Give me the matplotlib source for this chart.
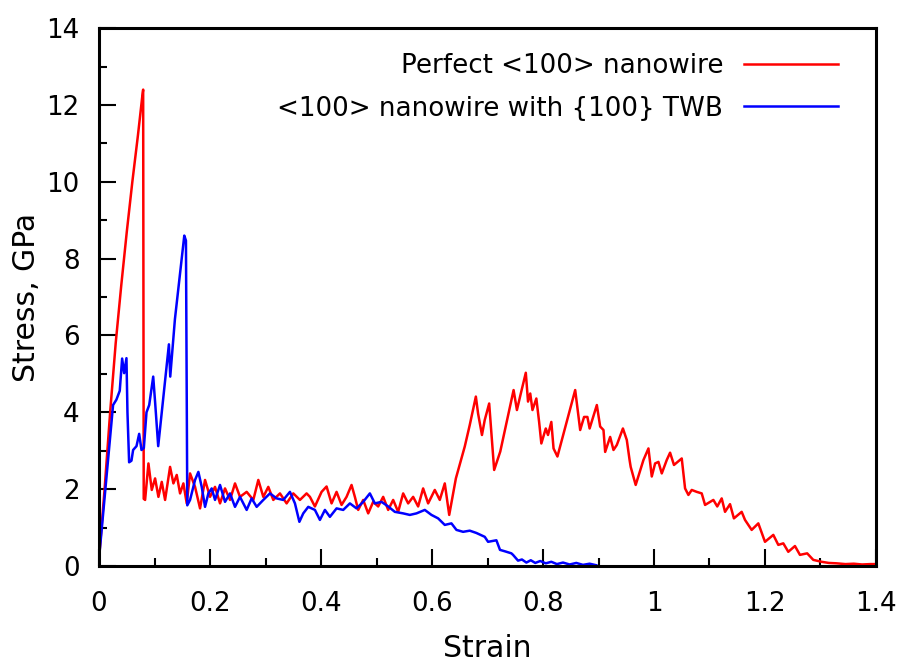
import matplotlib
matplotlib.use('Agg')
import matplotlib.pyplot as plt
from matplotlib.ticker import MultipleLocator

# Perfect <100> nanowire
red_x = [0.0, 0.005, 0.01, 0.02, 0.03, 0.04, 0.05, 0.06, 0.07, 0.0785, 0.0795, 0.0805,
         0.083, 0.089, 0.095, 0.101, 0.107, 0.113, 0.119, 0.128, 0.134, 0.140,
         0.146, 0.152, 0.158, 0.164, 0.173, 0.182, 0.191, 0.200, 0.209, 0.218,
         0.227, 0.236, 0.245, 0.254, 0.266, 0.278, 0.287, 0.296, 0.305, 0.314,
         0.326, 0.338, 0.350, 0.362, 0.374,
         0.380, 0.389, 0.401, 0.410, 0.419, 0.428, 0.437, 0.446, 0.455, 0.461,
         0.467, 0.476, 0.485, 0.494, 0.503, 0.512, 0.521, 0.530, 0.539, 0.548,
         0.557, 0.566, 0.575, 0.584, 0.593, 0.605, 0.614, 0.623, 0.631,
         0.643, 0.659, 0.668, 0.679, 0.683, 0.690, 0.695, 0.703, 0.712, 0.723,
         0.747, 0.753, 0.760, 0.769, 0.773, 0.777, 0.781, 0.788, 0.793, 0.797,
         0.805, 0.809, 0.815, 0.819, 0.826, 0.858, 0.867, 0.874, 0.880, 0.884,
         0.897, 0.903, 0.909, 0.912, 0.921, 0.927, 0.933, 0.944, 0.951, 0.956,
         0.958, 0.967, 0.981, 0.990, 0.996, 1.002, 1.008, 1.014, 1.023, 1.029,
         1.036, 1.050, 1.056, 1.062, 1.068, 1.077, 1.086, 1.092,
         1.107, 1.114, 1.122, 1.128, 1.137, 1.144, 1.158, 1.164, 1.176, 1.188,
         1.200, 1.215, 1.224, 1.233, 1.242, 1.254, 1.263, 1.276, 1.287, 1.302,
         1.315, 1.329, 1.345, 1.36, 1.375, 1.39, 1.4]
red_y = [0.2, 1.1, 2.0, 4.0, 5.8, 7.3, 8.7, 10.0, 11.2, 12.3, 12.4, 1.75,
         1.72, 2.67, 1.98, 2.28, 1.80, 2.19, 1.72, 2.58, 2.15, 2.37,
         1.89, 2.15, 1.63, 2.41, 2.06, 1.50, 2.24, 1.80, 2.06, 1.63,
         2.02, 1.72, 2.15, 1.80, 1.93, 1.72, 2.24, 1.80, 2.06, 1.72,
         1.89, 1.63, 1.89, 1.72, 1.89,
         1.80, 1.55, 1.93, 2.07, 1.63, 1.93, 1.59, 1.80, 2.11, 1.80,
         1.46, 1.72, 1.37, 1.67, 1.55, 1.80, 1.46, 1.72, 1.41, 1.89,
         1.63, 1.80, 1.55, 2.02, 1.63, 1.98, 1.72, 2.15, 1.33,
         2.28, 3.11, 3.67, 4.41, 3.97, 3.41, 3.80, 4.23, 2.50, 2.98,
         4.58, 4.06, 4.49, 5.03, 4.28, 4.49, 4.06, 4.36, 3.75, 3.19,
         3.58, 3.41, 3.75, 3.06, 2.85, 4.58, 3.54, 3.88, 3.88, 3.58,
         4.19, 3.63, 3.54, 2.97, 3.36, 3.02, 3.15, 3.58, 3.28, 2.76,
         2.58, 2.11, 2.76, 3.06, 2.33, 2.67, 2.71, 2.41, 2.76, 2.95,
         2.63, 2.80, 2.02, 1.85, 1.98, 1.93, 1.89, 1.59,
         1.72, 1.55, 1.76, 1.41, 1.61, 1.24, 1.41, 1.20, 0.94, 1.11,
         0.63, 0.81, 0.55, 0.59, 0.37, 0.52, 0.29, 0.33, 0.16, 0.11,
         0.08, 0.07, 0.05, 0.06, 0.04, 0.05, 0.05]

# <100> nanowire with {100} TWB
blue_x = [0.0, 0.0253, 0.0313, 0.0373, 0.0416, 0.0452, 0.0494, 0.0512, 0.0542, 0.0584,
          0.0614, 0.0675, 0.0723, 0.0765, 0.0807, 0.0855, 0.0904, 0.0976, 0.1012, 0.1066,
          0.1259, 0.1283, 0.1367, 0.1536, 0.1566, 0.1590,
          0.164, 0.173, 0.179, 0.185, 0.191, 0.197, 0.203, 0.209, 0.218, 0.227,
          0.236, 0.245, 0.254, 0.266, 0.275, 0.284, 0.296, 0.308, 0.320, 0.332,
          0.344, 0.353, 0.361, 0.368, 0.377,
          0.389, 0.398, 0.407, 0.416, 0.428, 0.440, 0.452, 0.464, 0.476, 0.488,
          0.497, 0.509, 0.521, 0.533, 0.548, 0.560, 0.572, 0.587, 0.599, 0.611,
          0.623, 0.635, 0.644, 0.656, 0.668, 0.680, 0.695, 0.701, 0.716, 0.7225,
          0.732, 0.743, 0.746, 0.755, 0.762, 0.770, 0.778, 0.786, 0.795, 0.805,
          0.815, 0.825, 0.836, 0.848, 0.860, 0.872, 0.884, 0.896]
blue_y = [0.2, 4.19, 4.33, 4.56, 5.40, 5.02, 5.41, 4.0, 2.70, 2.74,
          3.02, 3.12, 3.44, 3.02, 3.07, 4.0, 4.19, 4.93, 4.23, 3.12,
          5.77, 4.93, 6.42, 8.60, 8.47, 1.58,
          1.72, 2.24, 2.45, 2.06, 1.54, 1.89, 2.02, 1.72, 2.11, 1.67,
          1.89, 1.54, 1.80, 1.46, 1.76, 1.54, 1.72, 1.89, 1.76, 1.72,
          1.93, 1.63, 1.15, 1.37, 1.54,
          1.46, 1.20, 1.46, 1.28, 1.50, 1.46, 1.63, 1.50, 1.67, 1.89,
          1.63, 1.67, 1.55, 1.41, 1.37, 1.33, 1.37, 1.46, 1.33, 1.24,
          1.07, 1.11, 0.94, 0.89, 0.92, 0.86, 0.76, 0.63, 0.67, 0.42,
          0.38, 0.33, 0.29, 0.14, 0.17, 0.09, 0.15, 0.08, 0.13, 0.07,
          0.11, 0.05, 0.09, 0.04, 0.08, 0.03, 0.06, 0.02]

plt.rcParams['font.family'] = ['DejaVu Sans']

fig = plt.figure(figsize=(9.12, 6.70), dpi=100)
ax = fig.add_axes([0.1086, 0.1552, 0.8519, 0.8028])

ax.plot(red_x, red_y, color='#ff0000', lw=1.8, label='Perfect <100> nanowire')
ax.plot(blue_x, blue_y, color='#0000ff', lw=1.8, label='<100> nanowire with {100} TWB')

ax.set_xlim(0, 1.4)
ax.set_ylim(0, 14)
ax.xaxis.set_major_locator(MultipleLocator(0.2))
ax.xaxis.set_minor_locator(MultipleLocator(0.1))
ax.yaxis.set_major_locator(MultipleLocator(2))
ax.yaxis.set_minor_locator(MultipleLocator(1))
ax.set_xticks([0, 0.2, 0.4, 0.6, 0.8, 1.0, 1.2, 1.4])
ax.set_xticklabels(['0', '0.2', '0.4', '0.6', '0.8', '1', '1.2', '1.4'])

ax.tick_params(which='both', direction='in', top=False, right=False, width=1.5, colors='black')
ax.tick_params(which='major', length=12)
ax.tick_params(which='minor', length=6)
ax.tick_params(axis='x', which='major', pad=18, labelsize=18.8)
ax.tick_params(axis='y', which='major', pad=14, labelsize=18.8)
for s in ax.spines.values():
    s.set_linewidth(2.2)

ax.set_xlabel('Strain', fontsize=21.5)
ax.set_ylabel('Stress, GPa', fontsize=21.5)
ax.xaxis.set_label_coords(0.5, -0.153)
ax.xaxis.label.set_va('center')
ax.yaxis.set_label_coords(-0.094, 0.5)
ax.yaxis.label.set_va('center')

ax.legend(loc='upper right', bbox_to_anchor=(0.951, 0.953), frameon=False,
          markerfirst=False, fontsize=18.8, handlelength=3.6, handletextpad=0.8,
          labelspacing=0.62, borderpad=0, borderaxespad=0)

fig.savefig('out.png', dpi=100)
